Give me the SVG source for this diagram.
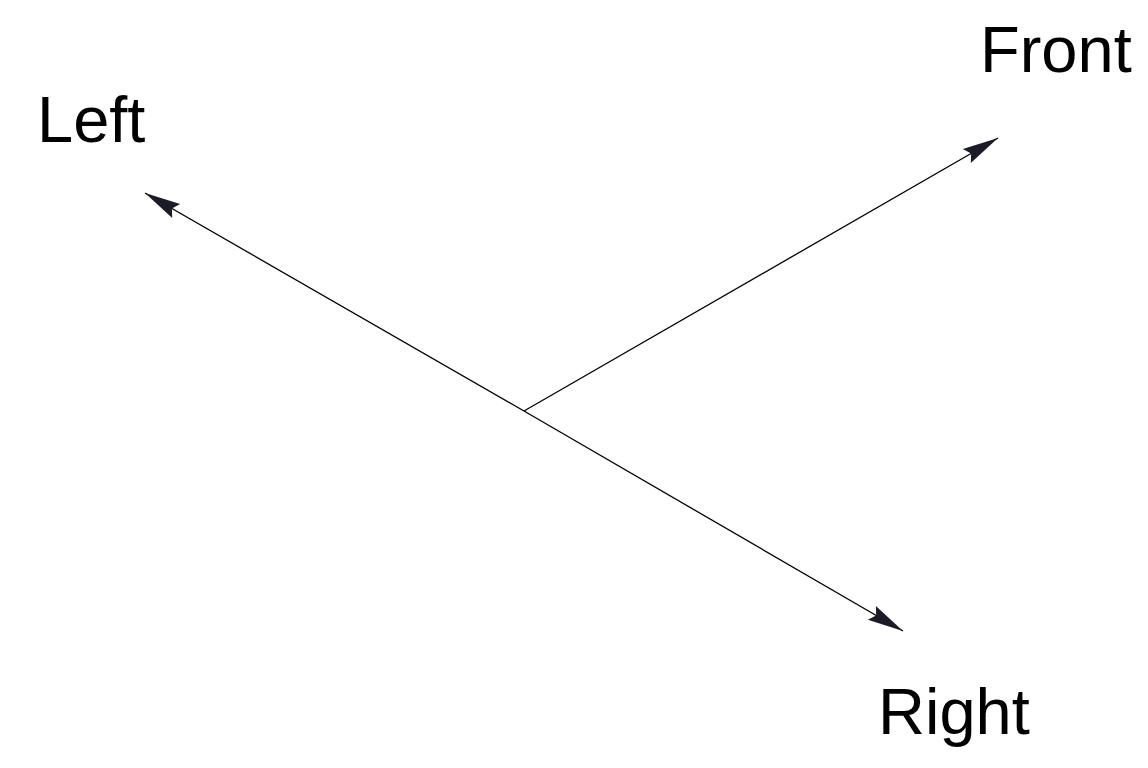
<svg xmlns="http://www.w3.org/2000/svg" width="1148" height="768" viewBox="0 0 1148 768">
<style>
.axis{stroke:#000;stroke-width:1.3;fill:none}
.lbl{font-family:"Liberation Sans",Arial,sans-serif;font-size:65px;fill:#000}
</style>
<defs>
<marker id="ah" markerUnits="userSpaceOnUse" markerWidth="40" markerHeight="20" viewBox="-38 -10 40 20" refX="0" refY="0" orient="auto">
<path d="M0,0 L-36,-8 L-31,0 L-36,8 Z" fill="#1c1c28"/>
</marker>
</defs>
<rect width="1148" height="768" fill="#fff"/>
<g id="connectors">
<line class="axis" x1="524" y1="411" x2="145" y2="193" marker-end="url(#ah)"/>
<line class="axis" x1="524" y1="411" x2="998" y2="138" marker-end="url(#ah)"/>
<line class="axis" x1="524" y1="411" x2="903" y2="631" marker-end="url(#ah)"/>
</g>
<g id="left"><text class="lbl" x="37" y="142">Left</text></g>
<g id="front"><text class="lbl" x="980" y="72">Front</text></g>
<g id="right"><text class="lbl" x="878" y="734">Right</text></g>
</svg>
